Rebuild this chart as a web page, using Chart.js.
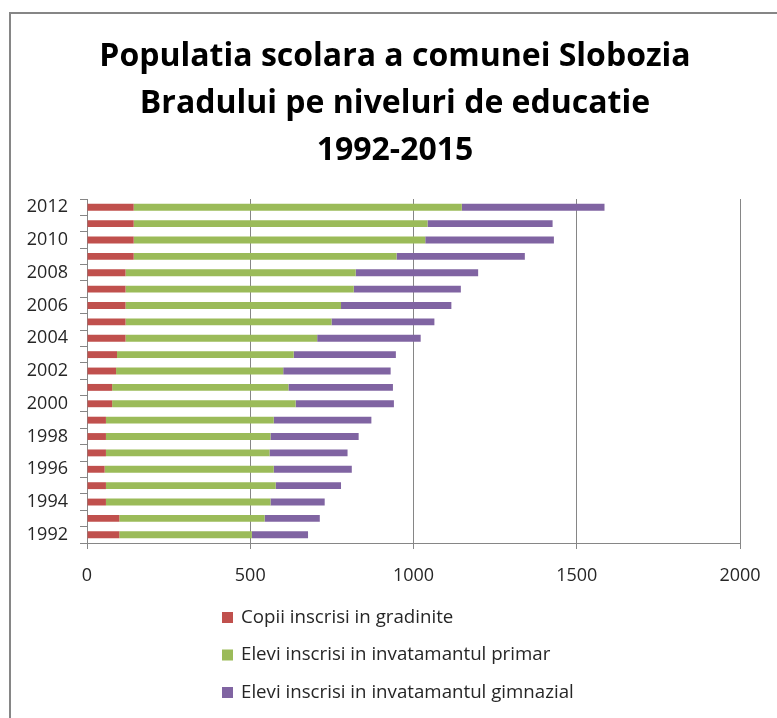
<!DOCTYPE html>
<html>
<head>
<meta charset="utf-8">
<script src="https://cdn.jsdelivr.net/npm/chart.js@4"></script>
<style>
  html, body { margin: 0; padding: 0; overflow: hidden; background: #fff; }
  #wrap { position: absolute; left: 9px; top: 12px; border-left: 2px solid #868686; border-top: 2px solid #868686; }
  canvas { display: block; }
</style>
</head>
<body>
<div id="wrap"><canvas id="chart" width="768" height="706"></canvas></div>
<script>
const years = ['1992','1993','1994','1995','1996','1997','1998','1999','2000','2001','2002',
               '2003','2004','2005','2006','2007','2008','2009','2010','2011','2012'];
const gradinite = [99, 99, 58, 58, 54, 58, 58, 58, 77, 77, 89, 92, 118, 118, 118, 118, 118, 143, 143, 143, 143];
const primar    = [406, 445, 504, 520, 518, 501, 504, 514, 562, 540, 512, 541, 587, 631, 660, 699, 705, 805, 893, 900, 1005];
const gimnazial = [172, 169, 166, 200, 239, 239, 270, 299, 301, 320, 329, 313, 317, 315, 338, 328, 375, 393, 394, 383, 437];
const xTicks = [0, 500, 1000, 1500, 2000];

const FONT = '"Open Sans", "DejaVu Sans", sans-serif';
const GRID = '#868686';

// legenda verticala sub grafic, ca in original
const stackedLegend = {
  id: 'stackedLegend',
  afterDraw(chart) {
    const { ctx, chartArea } = chart;
    const x = 211;
    let y = chartArea.bottom + 74.5;
    ctx.save();
    ctx.font = '18.7px ' + FONT;
    ctx.textBaseline = 'middle';
    chart.data.datasets.forEach(ds => {
      ctx.fillStyle = ds.backgroundColor;
      ctx.fillRect(x, y - 5.5, 11, 11);
      ctx.fillStyle = '#262626';
      ctx.fillText(ds.label, x + 19, y);
      y += 37.5;
    });
    ctx.restore();
  }
};

new Chart(document.getElementById('chart'), {
  type: 'bar',
  data: {
    labels: years,
    datasets: [
      { label: 'Copii inscrisi in gradinite', data: gradinite, backgroundColor: '#C0504D' },
      { label: 'Elevi inscrisi in invatamantul primar', data: primar, backgroundColor: '#9BBB59' },
      { label: 'Elevi inscrisi in invatamantul gimnazial', data: gimnazial, backgroundColor: '#8064A2' }
    ]
  },
  options: {
    indexAxis: 'y',
    responsive: false,
    animation: false,
    datasets: { bar: { barPercentage: 0.42, categoryPercentage: 1 } },
    layout: { padding: { left: 10, right: 10, top: 0, bottom: 131 } },
    plugins: {
      legend: { display: false },
      tooltip: { enabled: false },
      title: {
        display: true,
        text: ['Populatia scolara a comunei Slobozia', 'Bradului pe niveluri de educatie', '1992-2015'],
        color: '#000',
        font: { family: FONT, size: 32, weight: 'bold', lineHeight: 1.469 },
        padding: { top: 19, bottom: 25 }
      }
    },
    scales: {
      x: {
        stacked: true,
        min: 0,
        max: 2000,
        afterBuildTicks(scale) { scale.ticks = xTicks.map(v => ({ value: v })); },
        afterFit(scale) { scale.height = 46; scale.paddingRight = 39; },
        grid: { color: GRID, tickLength: 6, tickColor: GRID },
        border: { color: GRID },
        ticks: {
          color: '#262626', padding: 16, font: { family: FONT, size: 18 },
          callback(value) { return String(value); }
        }
      },
      y: {
        stacked: true,
        reverse: true,
        afterFit(scale) { scale.width = 66; },
        grid: { offset: true, drawOnChartArea: false, tickLength: 7, color: GRID },
        border: { color: GRID },
        ticks: {
          autoSkip: false,
          padding: 12,
          color: '#262626',
          font: { family: FONT, size: 18 },
          callback(value, index) { return index % 2 === 0 ? years[index] : ''; }
        }
      }
    }
  },
  plugins: [stackedLegend]
});
</script>
</body>
</html>
